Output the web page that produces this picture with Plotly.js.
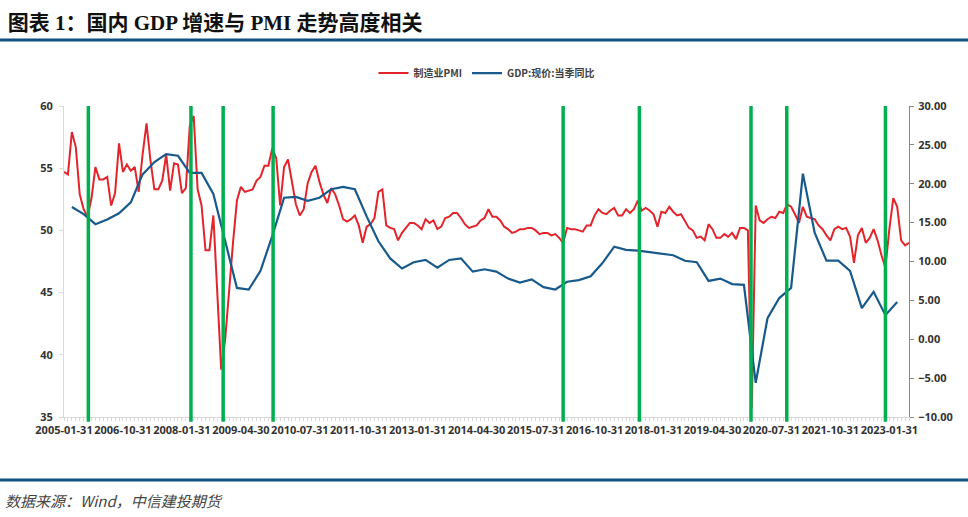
<!DOCTYPE html>
<html><head><meta charset="utf-8">
<script src="https://cdn.plot.ly/plotly-3.0.1.min.js"></script>
<style>html,body{margin:0;padding:0;background:#fff}#chart{width:968px;height:517px}</style>
</head><body><div id="chart"></div>
<script>
// Months absent from the source series (the date column skips them)
const missingMonths = ['2006-04','2006-05','2006-06','2006-07','2006-08','2006-09'];
function monthEnd(y, m) {
  const d = new Date(Date.UTC(y, m, 0)).getUTCDate();
  return y + '-' + String(m).padStart(2, '0') + '-' + String(d).padStart(2, '0');
}
const categories = [];
for (let y = 2005; y <= 2023; y++) {
  for (let m = 1; m <= 12; m++) {
    if (y === 2023 && m > 6) break;
    const key = y + '-' + String(m).padStart(2, '0');
    if (missingMonths.includes(key)) continue;
    categories.push(monthEnd(y, m));
  }
}

// 制造业PMI (monthly, one value per category)
const pmi = [
  54.7, 54.5, 57.9, 56.7, 52.9, 51.7, 51.1, 52.6, 55.1, 54.1, 54.1, 54.3, // 2005
  52.0, 53.0, 57.0, 54.7, 55.3, 54.8,                                     // 2006 (Jan-Mar, Oct-Dec)
  55.1, 53.1, 56.1, 58.6, 55.6, 53.3, 53.3, 54.0, 56.1, 53.2, 55.4, 55.3, // 2007
  53.0, 53.4, 58.4, 59.2, 53.3, 52.0, 48.4, 48.4, 51.2, 44.6, 38.8, 41.2, // 2008
  45.3, 49.0, 52.4, 53.5, 53.1, 53.2, 53.3, 54.0, 54.3, 55.2, 55.2, 56.6, // 2009
  55.8, 52.0, 55.1, 55.7, 53.9, 52.1, 51.2, 51.7, 53.8, 54.7, 55.2, 53.9, // 2010
  52.9, 52.2, 53.4, 52.9, 52.0, 50.9, 50.7, 50.9, 51.2, 50.4, 49.0, 50.3, // 2011
  50.5, 51.0, 53.1, 53.3, 50.4, 50.2, 50.1, 49.2, 49.8, 50.2, 50.6, 50.6, // 2012
  50.4, 50.1, 50.9, 50.6, 50.8, 50.1, 50.3, 51.0, 51.1, 51.4, 51.4, 51.0, // 2013
  50.5, 50.2, 50.3, 50.4, 50.8, 51.0, 51.7, 51.1, 51.1, 50.8, 50.3, 50.1, // 2014
  49.8, 49.9, 50.1, 50.1, 50.2, 50.2, 50.0, 49.7, 49.8, 49.8, 49.6, 49.7, // 2015
  49.4, 49.0, 50.2, 50.1, 50.1, 50.0, 49.9, 50.4, 50.4, 51.2, 51.7, 51.4, // 2016
  51.3, 51.6, 51.8, 51.2, 51.2, 51.7, 51.4, 51.7, 52.4, 51.6, 51.8, 51.6, // 2017
  51.3, 50.3, 51.5, 51.4, 51.9, 51.5, 51.2, 51.3, 50.8, 50.2, 50.0, 49.4, // 2018
  49.5, 49.2, 50.5, 50.1, 49.4, 49.4, 49.7, 49.5, 49.8, 49.3, 50.2, 50.2, // 2019
  50.0, 35.7, 52.0, 50.8, 50.6, 50.9, 51.1, 51.0, 51.5, 51.4, 52.1, 51.9, // 2020
  51.3, 50.6, 51.9, 51.1, 51.0, 50.9, 50.4, 50.1, 49.6, 49.2, 50.1, 50.3, // 2021
  50.1, 50.2, 49.5, 47.4, 49.6, 50.2, 49.0, 49.4, 50.1, 49.2, 48.0, 47.0, // 2022
  50.1, 52.6, 51.9, 49.2, 48.8, 49.0                                      // 2023
];

// GDP:现价:当季同比 (quarter-end months, right axis, %)
const gdpDates = categories.filter(d => ['03','06','09','12'].includes(d.slice(5, 7)) && d <= '2023-03-31');
const gdp = [
  17.0, 16.1, 14.8, 15.4, 16.2, 17.6, 21.2, 22.8, 23.8, 23.6,
  21.4, 21.4, 18.7, 12.8, 6.6, 6.4, 8.8, 13.3, 18.2, 18.3,
  17.8, 18.2, 19.3, 19.6, 19.3, 15.8, 12.6, 10.4, 9.1, 9.9,
  10.2, 9.2, 10.2, 10.4, 8.7, 9.0, 8.7, 7.8, 7.3, 7.7,
  6.7, 6.4, 7.4, 7.6, 8.1, 9.8, 11.9, 11.5, 11.4, 11.2,
  11.0, 10.8, 10.1, 9.9, 7.5, 7.8, 7.1, 7.0, -5.6, 2.7,
  5.3, 6.6, 21.3, 13.7, 10.1, 10.1, 8.8, 4.0, 6.1, 3.1,
  4.8
];

// Highlighted turning points (category index positions of the green vertical lines)
const highlightPos = [6.2, 32.3, 40.5, 53.2, 127.0, 146.4, 174.8, 183.9, 209.0];

// X tick labels
const tickLabels = ['2005-01-31','2006-10-31','2008-01-31','2009-04-30','2010-07-31','2011-10-31','2013-01-31',
  '2014-04-30','2015-07-31','2016-10-31','2018-01-31','2019-04-30','2020-07-31','2021-10-31','2023-01-31'];

const seriesNames = ['制造业PMI', 'GDP:现价:当季同比'];
const titleText = '图表 1：国内 GDP 增速与 PMI 走势高度相关';
const sourceText = '数据来源：Wind，中信建投期货';

const tickFont = {family: 'Open Sans, Noto Sans', size: 11, color: '#333333', weight: 'bold'};

const traces = [
  {x: categories, y: pmi, name: seriesNames[0], type: 'scatter', mode: 'lines',
   line: {color: '#E3242B', width: 2}, yaxis: 'y', hoverinfo: 'skip'},
  {x: gdpDates, y: gdp, name: seriesNames[1], type: 'scatter', mode: 'lines',
   line: {color: '#185A8C', width: 2.2}, yaxis: 'y2', hoverinfo: 'skip'}
];

const shapes = highlightPos.map(p => ({
  type: 'line', xref: 'x', yref: 'paper', x0: p, x1: p, y0: -0.015, y1: 1.0,
  line: {color: '#00B050', width: 3.5}, layer: 'above'
}));
// header and footer rules
shapes.push({type: 'line', xref: 'paper', yref: 'paper', x0: -0.0757, x1: 1.0698, y0: 1.212, y1: 1.212,
  line: {color: '#11507F', width: 3}});
shapes.push({type: 'line', xref: 'paper', yref: 'paper', x0: -0.0757, x1: 1.0698, y0: -0.2026, y1: -0.2026,
  line: {color: '#11507F', width: 3}});

const layout = {
  width: 968, height: 517,
  margin: {l: 64, r: 59, t: 106, b: 100},
  paper_bgcolor: '#ffffff', plot_bgcolor: '#ffffff',
  showlegend: true,
  legend: {orientation: 'h', x: 0.5, xanchor: 'center', y: 1.106, yanchor: 'middle',
    font: {family: 'Noto Sans CJK SC', size: 10, color: '#404040', weight: 'bold'}},
  title: {text: titleText, x: 0.008, xanchor: 'left', xref: 'container', y: 0.957, yref: 'container', yanchor: 'middle',
    font: {family: 'Liberation Serif, Noto Sans CJK SC', size: 21, color: '#111111', weight: 'bold'}},
  xaxis: {type: 'category', categoryorder: 'array', categoryarray: categories, range: [0, categories.length - 1],
    tickmode: 'array', tickvals: categories,
    ticktext: categories.map(c => tickLabels.includes(c) ? c : ''),
    tickangle: 0, ticks: 'outside', ticklen: 3, tickcolor: '#d9d9d9', tickwidth: 1,
    showline: true, linecolor: '#d9d9d9', linewidth: 1, showgrid: false, zeroline: false,
    tickfont: tickFont},
  yaxis: {range: [35, 60], tick0: 35, dtick: 5, ticks: 'outside', ticklen: 4, tickcolor: '#d9d9d9',
    showline: true, linecolor: '#d9d9d9', showgrid: false, zeroline: false, tickfont: tickFont,
    ticklabelstandoff: 4},
  yaxis2: {overlaying: 'y', side: 'right', range: [-10, 30], tick0: -10, dtick: 5, tickformat: '.2f',
    ticks: 'outside', ticklen: 4, tickcolor: '#888888', showline: true, linecolor: '#888888',
    showgrid: false, zeroline: false, tickfont: tickFont, ticklabelstandoff: 2},
  shapes: shapes,
  annotations: [{text: sourceText, xref: 'paper', yref: 'paper', x: -0.0722, y: -0.267,
    xanchor: 'left', yanchor: 'middle', showarrow: false,
    font: {family: 'Noto Sans CJK SC', size: 15, color: '#444444', style: 'italic'}}]
};

Plotly.newPlot('chart', traces, layout, {displayModeBar: false, staticPlot: true});
</script>
</body></html>
